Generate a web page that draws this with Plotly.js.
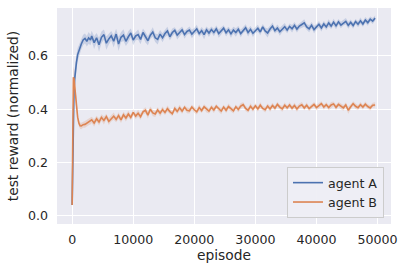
<!DOCTYPE html>
<html>
<head>
<meta charset="utf-8">
<script src="https://cdn.plot.ly/plotly-3.0.1.min.js"></script>
<style>html,body{margin:0;padding:0;background:#fff;}#chart{width:404px;height:272px;}</style>
</head>
<body>
<div id="chart"></div>
<script>
// episodes: early dense part, then every 400 episodes
var episodesEarly = [0,100,200,300,400,500,700,900,1100,1300,1500,1800,2100,2400,2700,3000];
var episodesMain = [
3200,3600,4000,4400,4800,5200,5600,6000,6400,6800,
7200,7600,8000,8400,8800,9200,9600,10000,10400,10800,
11200,11600,12000,12400,12800,13200,13600,14000,14400,14800,
15200,15600,16000,16400,16800,17200,17600,18000,18400,18800,
19200,19600,20000,20400,20800,21200,21600,22000,22400,22800,
23200,23600,24000,24400,24800,25200,25600,26000,26400,26800,
27200,27600,28000,28400,28800,29200,29600,30000,30400,30800,
31200,31600,32000,32400,32800,33200,33600,34000,34400,34800,
35200,35600,36000,36400,36800,37200,37600,38000,38400,38800,
39200,39600,40000,40400,40800,41200,41600,42000,42400,42800,
43200,43600,44000,44400,44800,45200,45600,46000,46400,46800,
47200,47600,48000,48400,48800,49200,49600];

var agentAEarly = [0.04,0.25,0.40,0.47,0.51,0.545,0.575,0.605,0.62,0.632,0.645,0.66,0.666,0.655,0.668,0.66];
var agentAMain = [
0.675,0.650,0.668,0.642,0.670,0.680,0.648,0.664,0.676,0.655,
0.682,0.645,0.670,0.678,0.655,0.672,0.686,0.660,0.675,0.680,
0.662,0.688,0.670,0.657,0.678,0.690,0.668,0.662,0.682,0.668,
0.684,0.694,0.672,0.688,0.696,0.678,0.688,0.698,0.680,0.692,
0.697,0.682,0.692,0.702,0.684,0.695,0.680,0.698,0.686,0.699,
0.688,0.702,0.684,0.695,0.704,0.687,0.698,0.683,0.697,0.688,
0.700,0.684,0.696,0.706,0.688,0.700,0.685,0.696,0.704,0.690,
0.709,0.694,0.686,0.701,0.712,0.695,0.705,0.691,0.702,0.710,
0.697,0.711,0.702,0.715,0.701,0.712,0.718,0.724,0.709,0.702,
0.715,0.699,0.709,0.719,0.705,0.720,0.709,0.724,0.712,0.727,
0.713,0.728,0.716,0.724,0.730,0.715,0.726,0.714,0.729,0.719,
0.732,0.720,0.735,0.725,0.738,0.731,0.742];

var agentBEarly = [0.04,0.52,0.52,0.515,0.49,0.46,0.41,0.37,0.348,0.338,0.337,0.342,0.343,0.348,0.352,0.356];
var agentBMain = [
0.360,0.348,0.364,0.352,0.369,0.358,0.372,0.354,0.366,0.374,
0.362,0.376,0.360,0.379,0.367,0.382,0.369,0.388,0.374,0.385,
0.372,0.390,0.396,0.378,0.400,0.386,0.382,0.397,0.385,0.399,
0.388,0.402,0.391,0.383,0.403,0.392,0.405,0.393,0.407,0.396,
0.394,0.408,0.398,0.390,0.406,0.395,0.409,0.399,0.393,0.407,
0.397,0.411,0.400,0.393,0.408,0.396,0.410,0.401,0.394,0.409,
0.399,0.412,0.417,0.403,0.396,0.411,0.400,0.413,0.401,0.415,
0.403,0.398,0.412,0.401,0.414,0.404,0.418,0.408,0.401,0.415,
0.405,0.416,0.404,0.414,0.401,0.412,0.417,0.405,0.415,0.402,
0.411,0.418,0.406,0.415,0.421,0.408,0.417,0.406,0.416,0.420,
0.407,0.418,0.410,0.405,0.416,0.396,0.409,0.421,0.411,0.406,
0.417,0.408,0.419,0.410,0.405,0.415,0.416];

// half-width of the confidence band
var bandAEarly = [0.01,0.04,0.05,0.05,0.04,0.035,0.03,0.025,0.022,0.02,0.02,0.02,0.018,0.02,0.022,0.02];
var bandAMain = [
0.020,0.024,0.018,0.026,0.022,0.019,0.025,0.021,0.018,0.023,
0.020,0.026,0.019,0.022,0.018,0.021,0.017,0.020,0.016,0.019,
0.018,0.015,0.020,0.017,0.014,0.018,0.016,0.019,0.015,0.017,
0.014,0.016,0.013,0.015,0.012,0.016,0.014,0.013,0.015,0.012,
0.014,0.016,0.013,0.015,0.012,0.014,0.017,0.013,0.015,0.012,
0.014,0.012,0.016,0.013,0.011,0.014,0.012,0.015,0.013,0.016,
0.012,0.014,0.011,0.013,0.015,0.012,0.014,0.011,0.013,0.012,
0.011,0.013,0.017,0.012,0.014,0.011,0.013,0.015,0.012,0.014,
0.012,0.011,0.014,0.012,0.013,0.011,0.012,0.014,0.011,0.013,
0.012,0.014,0.011,0.012,0.013,0.011,0.012,0.014,0.011,0.013,
0.013,0.011,0.012,0.010,0.012,0.013,0.011,0.012,0.010,0.011,
0.012,0.010,0.011,0.012,0.010,0.011,0.010];
var bandBEarly = [0.01,0.04,0.04,0.035,0.03,0.025,0.02,0.015,0.012,0.012,0.012,0.012,0.013,0.012,0.012,0.013];
var bandBMain = [
0.012,0.014,0.011,0.013,0.012,0.015,0.011,0.013,0.012,0.014,
0.011,0.013,0.012,0.011,0.013,0.012,0.010,0.012,0.011,0.013,
0.012,0.010,0.011,0.013,0.010,0.012,0.011,0.010,0.012,0.011,
0.010,0.012,0.011,0.009,0.011,0.010,0.012,0.010,0.009,0.011,
0.010,0.009,0.011,0.010,0.012,0.009,0.010,0.011,0.009,0.010,
0.011,0.009,0.010,0.012,0.009,0.010,0.011,0.009,0.010,0.009,
0.010,0.011,0.009,0.010,0.009,0.011,0.010,0.009,0.010,0.011,
0.009,0.010,0.009,0.011,0.010,0.009,0.010,0.009,0.011,0.010,
0.009,0.010,0.009,0.010,0.011,0.009,0.010,0.009,0.010,0.009,
0.010,0.009,0.011,0.010,0.009,0.010,0.009,0.010,0.011,0.009,
0.010,0.009,0.010,0.011,0.009,0.013,0.010,0.009,0.010,0.009,
0.010,0.009,0.010,0.009,0.010,0.009,0.010];

var xTicks = [0,10000,20000,30000,40000,50000];
var yTicks = [0.0,0.2,0.4,0.6];
var seriesNames = ['agent A','agent B'];

var x = episodesEarly.concat(episodesMain);
var meanA = agentAEarly.concat(agentAMain);
var meanB = agentBEarly.concat(agentBMain);
var hwA = bandAEarly.concat(bandAMain);
var hwB = bandBEarly.concat(bandBMain);

function band(mean, hw, sign){ return mean.map(function(v,i){ return v + sign*hw[i]; }); }

var blue = '#4C72B0', orange = '#DD8452';
var txt = '#262626';
var font = 'DejaVu Sans, sans-serif';

var traces = [
  {x:x, y:band(meanA,hwA,1), mode:'lines', line:{width:0}, showlegend:false, hoverinfo:'skip'},
  {x:x, y:band(meanA,hwA,-1), mode:'lines', line:{width:0}, fill:'tonexty', fillcolor:'rgba(76,114,176,0.22)', showlegend:false, hoverinfo:'skip'},
  {x:x, y:band(meanB,hwB,1), mode:'lines', line:{width:0}, showlegend:false, hoverinfo:'skip'},
  {x:x, y:band(meanB,hwB,-1), mode:'lines', line:{width:0}, fill:'tonexty', fillcolor:'rgba(221,132,82,0.22)', showlegend:false, hoverinfo:'skip'},
  {x:x, y:meanA, mode:'lines', name:seriesNames[0], line:{color:blue, width:1.6}},
  {x:x, y:meanB, mode:'lines', name:seriesNames[1], line:{color:orange, width:1.6}}
];

var layout = {
  width:404, height:272,
  margin:{l:57, r:13, t:8, b:48, pad:0},
  paper_bgcolor:'#ffffff', plot_bgcolor:'#EAEAF2',
  font:{family:font, size:12.6, color:txt},
  showlegend:true,
  legend:{x:0.979, y:0.028, xanchor:'right', yanchor:'bottom', traceorder:'normal',
          bgcolor:'rgba(238,238,244,0.95)', bordercolor:'#CCCCCC', borderwidth:1,
          font:{family:font, size:12.6, color:txt}, tracegroupgap:0},
  xaxis:{range:[-2480,52200], tickvals:xTicks, ticktext:xTicks.map(String),
         showgrid:true, gridcolor:'#ffffff', gridwidth:1, zeroline:false,
         ticks:'', showline:false, ticklabelstandoff:6,
         tickfont:{family:font, size:12.6, color:txt},
         title:{text:'episode', font:{family:font, size:13.8, color:txt}, standoff:4}},
  yaxis:{range:[-0.031,0.78], tickvals:yTicks, ticktext:yTicks.map(function(v){return v.toFixed(1);}),
         showgrid:true, gridcolor:'#ffffff', gridwidth:1, zeroline:false,
         ticks:'', showline:false, ticklabelstandoff:8,
         tickfont:{family:font, size:12.6, color:txt},
         title:{text:'test reward (normalized)', font:{family:font, size:13.8, color:txt}, standoff:6}}
};

Plotly.newPlot('chart', traces, layout, {displayModeBar:false, staticPlot:true});
</script>
</body>
</html>
